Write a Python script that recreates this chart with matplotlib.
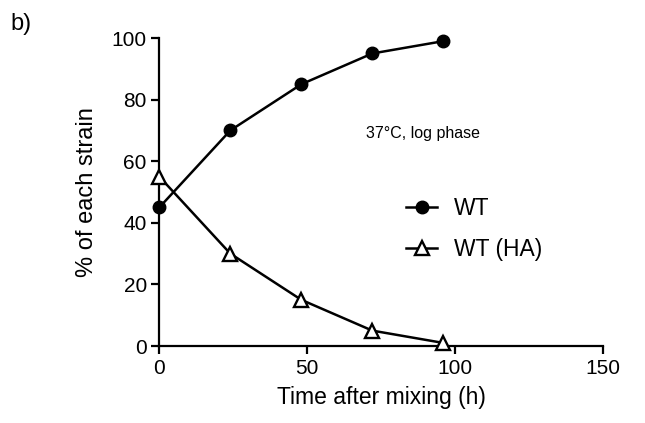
import matplotlib
matplotlib.use("Agg")
import matplotlib.pyplot as plt

plt.rcParams['font.family'] = ['Liberation Sans', 'DejaVu Sans']

time_h = [0, 24, 48, 72, 96]
wt = [45, 70, 85, 95, 99]
wt_ha = [55, 30, 15, 5, 1]
x_ticks = [0, 50, 100, 150]
y_ticks = [0, 20, 40, 60, 80, 100]

fig = plt.figure(figsize=(6.45, 4.23), dpi=100)
ax = fig.add_axes([0.247, 0.182, 0.688, 0.728])

ax.plot(time_h, wt, color='black', lw=1.8, marker='o', ms=9, label='WT', clip_on=False, zorder=3)
ax.plot(time_h, wt_ha, color='black', lw=1.8, marker='^', ms=10, mfc='white', mew=1.7,
        label='WT (HA)', clip_on=False, zorder=3)

ax.set_xlim(0, 150)
ax.set_ylim(0, 100)
ax.set_xticks(x_ticks)
ax.set_yticks(y_ticks)
for s in ['top', 'right']:
    ax.spines[s].set_visible(False)
for s in ['left', 'bottom']:
    ax.spines[s].set_linewidth(1.6)
ax.tick_params(direction='out', length=6, width=1.6, labelsize=15, pad=3)

ax.set_xlabel('Time after mixing (h)', fontsize=16.5, labelpad=6)
ax.set_ylabel('% of each strain', fontsize=17, labelpad=10)

ax.text(89, 69, '37°C, log phase', fontsize=11.5, ha='center', va='center')

ax.legend(loc='center left', bbox_to_anchor=(0.51, 0.38), frameon=False, fontsize=16.5,
          handlelength=1.35, labelspacing=0.75, handletextpad=0.75)

fig.text(0.033, 0.943, 'b)', fontsize=17, ha='center', va='center')

fig.savefig('out.png', dpi=100)
